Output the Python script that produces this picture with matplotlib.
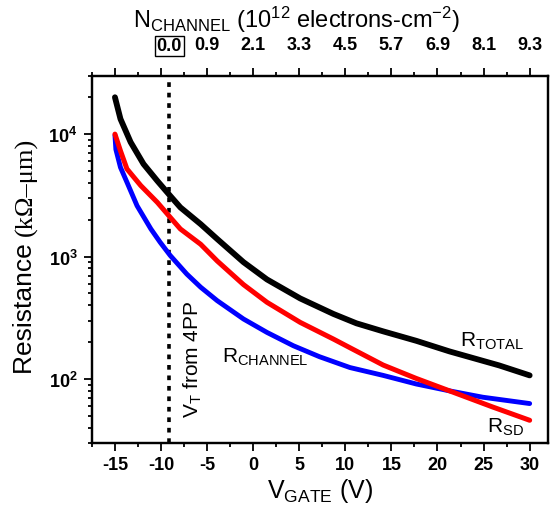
import matplotlib
matplotlib.use("Agg")
import matplotlib.pyplot as plt
import matplotlib.ticker as mticker
import matplotlib.transforms as mtransforms

plt.rcParams["font.family"] = ["Liberation Sans", "DejaVu Sans"]
plt.rcParams["mathtext.fontset"] = "custom"
plt.rcParams["mathtext.rm"] = "Liberation Sans"
plt.rcParams["mathtext.it"] = "Liberation Sans:italic"
plt.rcParams["mathtext.bf"] = "Liberation Sans:bold"
plt.rcParams["axes.unicode_minus"] = False

# gate sweep, resistances in kOhm-um
v_total = [-15, -14.4, -13.3, -11.9, -10.4, -9.0, -7.9, -5.7, -3.9, -1.05, 1.5, 5.1,
           8.7, 11.2, 14.1, 17.7, 21.3, 26.7, 30]
r_total = [20000, 13300, 8600, 5700, 4150, 3130, 2520, 1840, 1390, 900, 650, 455,
           340, 285, 245, 205, 168, 129, 107]

v_sd = [-15, -14.4, -13.7, -12.2, -10.4, -9.0, -7.9, -5.7, -3.9, -1.05, 1.5, 5.1,
        8.7, 10.5, 14.1, 17.7, 21.3, 26.0, 30]
r_sd = [10000, 7300, 5200, 3800, 2770, 2090, 1680, 1260, 920, 590, 423, 290,
        212, 180, 130, 101, 80, 59, 46]

v_channel = [-15, -14.9, -14.4, -13.7, -12.6, -11.1, -10.1, -9.0, -7.2, -5.7, -3.9,
             -1.05, 1.5, 4.35, 7.2, 10.5, 14.1, 17.7, 21.3, 24.9, 30]
r_channel = [9800, 7500, 5350, 4050, 2600, 1680, 1310, 1020, 719, 562, 436,
             309, 240, 187, 152, 124, 107, 91, 80, 71, 63]

# threshold from four-point probe, and carrier density on the top axis
v_threshold = -9.1
top_ticks = [-15, -10, -5, 0, 5, 10, 15, 20, 25, 30]
n_channel = ["", "", "0.9", "2.1", "3.3", "4.5", "5.7", "6.9", "8.1", "9.3"]

fig = plt.figure(figsize=(5.57, 5.10), dpi=100)
ax = fig.add_axes([0.165, 0.1294, 0.819, 0.7202])

ax.plot(v_channel, r_channel, color="#0000ff", lw=3.5, solid_joinstyle="round",
        solid_capstyle="round", zorder=3)
ax.plot(v_sd, r_sd, color="#ff0000", lw=3.6, solid_joinstyle="round",
        solid_capstyle="round", zorder=4)
ax.plot(v_total, r_total, color="black", lw=4.2, solid_joinstyle="round",
        solid_capstyle="round", zorder=5)
ax.axvline(v_threshold, color="black", lw=2.6, linestyle=(0, (1.3, 1.6)), zorder=2)

ax.set_yscale("log")
ax.set_xlim(-17.5, 32)
ax.set_ylim(30, 30000)
ax.set_xticks(range(-15, 31, 5))
ax.xaxis.set_minor_locator(mticker.MultipleLocator(2.5))
ax.yaxis.set_major_locator(mticker.LogLocator(base=10, numticks=10))
ax.yaxis.set_minor_locator(mticker.LogLocator(base=10, subs=range(2, 10), numticks=10))
ax.yaxis.set_minor_formatter(mticker.NullFormatter())

for sp in ax.spines.values():
    sp.set_linewidth(1.6)
ax.tick_params(which="major", direction="out", length=5.5, width=1.3, labelsize=13, pad=4)
ax.tick_params(which="minor", direction="out", length=3, width=1.3)
ax.tick_params(axis="x", top=False)
ax.tick_params(axis="y", right=False, pad=5)
for lbl in ax.get_xticklabels() + ax.get_yticklabels():
    lbl.set_fontweight("bold")

# top axis: electron density in the channel
ax2 = ax.twiny()
ax2.set_xlim(ax.get_xlim())
ax2.set_xticks(top_ticks)
ax2.set_xticklabels(n_channel, fontweight="bold", fontsize=13)
ax2.xaxis.set_minor_locator(mticker.MultipleLocator(2.5))
ax2.tick_params(which="major", direction="out", length=5.5, width=1.3, pad=11)
ax2.tick_params(which="minor", direction="out", length=3, width=1.3)
for sp in ax2.spines.values():
    sp.set_linewidth(1.6)

blend = mtransforms.blended_transform_factory(ax.transData, ax.transAxes)
ax.text(v_threshold, 1.081, "0.0", transform=blend, ha="center", va="center",
        fontsize=13, fontweight="bold",
        bbox=dict(boxstyle="square,pad=0.1", fc="white", ec="black", lw=1.0))

ax.set_xlabel("V$_{\\mathrm{GATE}}$ (V)", fontsize=18, labelpad=2)
fig.text(296 / 557, 1 - 28 / 510, "N$_{\\mathrm{CHANNEL}}$ (10$^{12}$ electrons-cm$^{-2}$)",
         fontsize=17, ha="center", va="baseline")
fig.text(25 / 557, 1 - 236 / 510, "Resistance ", rotation=90, fontsize=19,
         ha="center", va="top")
fig.text(26 / 557, 1 - 236 / 510, "(kΩ–μm)", rotation=90, fontsize=19,
         family="Liberation Serif", ha="center", va="bottom")

ax.text(22.4, 186, "R$_{\\mathrm{TOTAL}}$", fontsize=15, va="baseline", ha="left")
ax.text(25.4, 36.9, "R$_{\\mathrm{SD}}$", fontsize=15, va="baseline", ha="left")
ax.text(-3.4, 138, "R$_{\\mathrm{CHANNEL}}$", fontsize=15, va="baseline", ha="left")
ax.text(-7.8, 49, "V$_{\\mathrm{T}}$ from 4PP", fontsize=15, rotation=90,
        va="bottom", ha="left")

fig.savefig("out.png", dpi=100)
